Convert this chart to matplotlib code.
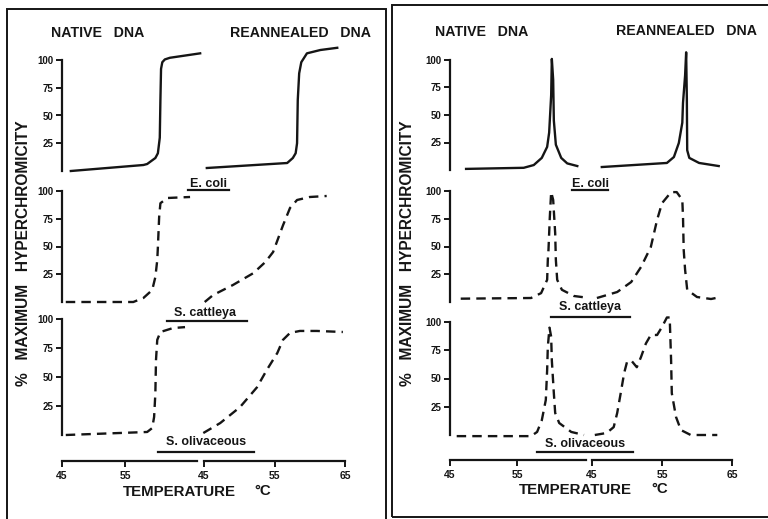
import matplotlib.pyplot as plt
from matplotlib.lines import Line2D
from matplotlib.patches import Rectangle

W, H = 768, 519
INK = '#151515'
plt.rcParams['font.family'] = ['Liberation Sans', 'DejaVu Sans']
plt.rcParams['font.weight'] = 'bold'

species = ['E. coli', 'S. cattleya', 'S. olivaceous']
y_ticks = [25, 50, 75, 100]
native_xticks = [45, 55]
rean_xticks = [45, 55, 65]

# ---- left panel: melting curves (% max hyperchromicity vs temperature) ----
L_ecoli_nat_t = [46.4, 57.9, 58.5, 59.8, 60.2, 60.5, 60.6, 60.7, 60.9, 61.3, 62.1, 66.9]
L_ecoli_nat_v = [0, 5.4, 6.3, 11.7, 16, 30, 64, 92, 98, 100.5, 102, 106]
L_ecoli_rea_t = [45.4, 56.8, 57.6, 58.0, 58.2, 58.3, 58.5, 58.8, 59.6, 61.5, 63.9]
L_ecoli_rea_v = [2.7, 7.2, 11.7, 16, 25, 64, 88, 98, 106, 109, 111]

L_catt_nat_t = [45.6, 56.3, 57.9, 59.3, 59.8, 60.1, 60.2, 60.4, 60.6, 61.7, 65.3]
L_catt_nat_v = [0, 0, 3.6, 10.8, 22.5, 37.8, 49.5, 76.6, 89, 93.7, 94.6]
L_catt_rea_t = [45.1, 46.3, 49.1, 52.0, 53.7, 54.8, 56.2, 57.2, 58.2, 60.0, 62.4]
L_catt_rea_v = [0, 6.3, 15.3, 26, 36, 45, 69, 84.7, 91.9, 94.6, 95.5]

L_oliv_nat_t = [45.6, 58.5, 59.3, 59.6, 59.8, 59.9, 60.1, 60.6, 62.6, 64.5]
L_oliv_nat_v = [0, 2.6, 6, 15.5, 36, 64.7, 82, 88.8, 92.2, 93]
L_oliv_rea_t = [44.9, 47.3, 50.1, 52.5, 53.9, 55.4, 56.2, 57.2, 58.6, 61.0, 64.7]
L_oliv_rea_v = [1.7, 10.3, 24, 41, 56, 70.7, 82, 88, 89.7, 89.7, 88.8]

# ---- right panel: derivative melting profiles ----
R_ecoli_nat_t = [47.4, 56.0, 57.5, 58.7, 59.5, 59.8, 60.1, 60.2, 60.4, 60.5, 60.8, 61.6, 62.5, 64.0]
R_ecoli_nat_v = [1, 2, 4.5, 11, 21, 34, 68, 101, 82, 45, 23, 11, 6, 3.6]
R_ecoli_rea_t = [46.4, 55.7, 56.7, 57.4, 57.9, 58.0, 58.3, 58.45, 58.55, 58.6, 58.9, 60.3, 63.1]
R_ecoli_rea_v = [2.7, 6.4, 11.8, 24.5, 43, 61, 86, 107, 64.5, 18, 11, 6.4, 3.6]

R_catt_nat_t = [46.6, 57.1, 58.6, 59.5, 59.6, 59.7, 59.9, 60.1, 60.4, 60.7, 60.8, 61.0, 61.7, 63.5, 65.3]
R_catt_nat_v = [3, 3.6, 8, 20, 38, 47, 76.6, 99, 92, 62, 38, 20, 11, 5.4, 4]
R_catt_rea_t = [45.7, 48.6, 50.6, 52.0, 53.4, 54.3, 55.0, 56.3, 57.1, 57.9, 58.0, 58.1, 58.3, 58.6, 60.0, 62.0, 63.4]
R_catt_rea_v = [3.6, 9, 18, 31.5, 49.5, 74, 89, 99, 99, 92, 76.6, 47, 29, 11, 4.5, 2.7, 4.5]

R_oliv_nat_t = [46.0, 57.1, 58.0, 58.7, 59.3, 59.5, 59.6, 59.85, 60.1, 60.2, 60.5, 60.7, 61.3, 63.1, 65.0]
R_oliv_nat_v = [-1, -1, 2.7, 13, 31, 57.5, 78, 95, 87, 66, 37, 19.5, 10.6, 2.7, 0]
R_oliv_rea_t = [45.4, 47.1, 48.1, 48.6, 49.1, 49.6, 50.0, 50.6, 51.4, 52.0, 52.7, 53.4, 54.3,
                55.0, 55.7, 56.1, 56.3, 56.4, 57.0, 57.7, 59.1, 62.9]
R_oliv_rea_v = [0, 1.8, 7, 19.5, 37, 55, 64.6, 66, 60, 69, 81, 88.5, 88.5,
                95.6, 104, 104, 66, 37, 16, 4.4, 0, 0]

fig = plt.figure(figsize=(W / 100, H / 100), dpi=100)
fig.patch.set_facecolor('white')


def px_axes(x0, x1, ytop, ybot):
    ax = fig.add_axes([x0 / W, 1 - ybot / H, (x1 - x0) / W, (ybot - ytop) / H])
    ax.patch.set_visible(False)
    for s in ax.spines.values():
        s.set_visible(False)
    return ax


def ftext(x, y, s, **kw):
    kw.setdefault('color', INK)
    kw.setdefault('ha', 'center')
    kw.setdefault('va', 'center')
    fig.text(x / W, 1 - y / H, s, **kw)


def underline(x0, x1, y):
    fig.add_artist(Line2D([x0 / W, x1 / W], [1 - y / H, 1 - y / H], color=INK, lw=1.6))


def draw_panel(yaxis_x, nat_end, nat_max, rea_start, rea_end, rows, curves, xaxis_y,
               labels, titles, ylab_x, temp_pos):
    for (ytop, ybot), (nt, nv, rt, rv), style in zip(rows, curves, ['-', (0, (4, 2.6)), (0, (4, 2.6))]):
        axn = px_axes(yaxis_x, nat_end, ytop, ybot)
        axn.set_xlim(45, nat_max)
        axn.set_ylim(0, 100)
        axn.spines['left'].set_visible(True)
        axn.spines['left'].set_linewidth(1.6)
        axn.spines['left'].set_color(INK)
        axn.set_xticks([])
        axn.set_yticks(y_ticks)
        axn.tick_params(axis='y', direction='out', length=4, width=1.4, pad=2,
                        labelsize=7, colors=INK)
        axn.plot(nt, nv, color=INK, lw=1.7, ls=style, clip_on=False)

        axr = px_axes(rea_start, rea_end, ytop, ybot)
        axr.set_xlim(45, 65)
        axr.set_ylim(0, 100)
        axr.set_xticks([])
        axr.set_yticks([])
        axr.plot(rt, rv, color=INK, lw=1.7, ls=style, clip_on=False)

    # temperature axes
    for x0, x1, xmax, ticks in [(yaxis_x, nat_end, nat_max, native_xticks),
                                (rea_start, rea_end, 65, rean_xticks)]:
        axx = px_axes(x0, x1, xaxis_y - 10, xaxis_y)
        axx.set_xlim(45, xmax)
        axx.set_yticks([])
        axx.spines['bottom'].set_visible(True)
        axx.spines['bottom'].set_linewidth(1.6)
        axx.spines['bottom'].set_color(INK)
        axx.set_xticks(ticks)
        axx.tick_params(axis='x', direction='out', length=4, width=1.4, pad=3,
                        labelsize=7.5, colors=INK)

    for (s, cx, cy, u0, u1, uy) in labels:
        ftext(cx, cy, s, fontsize=9)
        underline(u0, u1, uy)

    for (s, cx, cy) in titles:
        ftext(cx, cy, s, fontsize=10.2)

    ftext(ylab_x, 253, '%   MAXIMUM   HYPERCHROMICITY', fontsize=11.2, rotation=90)
    tx, dx, ty = temp_pos
    ftext(tx, ty, 'TEMPERATURE', fontsize=10.8)
    ftext(dx, ty - 1, '°C', fontsize=10.8)


draw_panel(62, 197, 66.4, 204, 345,
           [(60, 171), (191, 302), (319, 435)],
           [(L_ecoli_nat_t, L_ecoli_nat_v, L_ecoli_rea_t, L_ecoli_rea_v),
            (L_catt_nat_t, L_catt_nat_v, L_catt_rea_t, L_catt_rea_v),
            (L_oliv_nat_t, L_oliv_nat_v, L_oliv_rea_t, L_oliv_rea_v)],
           461,
           [(species[0], 208, 184, 188, 229, 190),
            (species[1], 205, 313, 167, 247, 321),
            (species[2], 206, 442, 158, 254, 452)],
           [('NATIVE   DNA', 98, 33), ('REANNEALED   DNA', 300, 33)],
           24, (179, 263, 492))

draw_panel(450, 586, 65.3, 592, 732,
           [(60, 170), (191, 302), (322, 435)],
           [(R_ecoli_nat_t, R_ecoli_nat_v, R_ecoli_rea_t, R_ecoli_rea_v),
            (R_catt_nat_t, R_catt_nat_v, R_catt_rea_t, R_catt_rea_v),
            (R_oliv_nat_t, R_oliv_nat_v, R_oliv_rea_t, R_oliv_rea_v)],
           460,
           [(species[0], 590, 184, 572, 608, 190),
            (species[1], 590, 307, 551, 630, 317),
            (species[2], 585, 444, 537, 633, 452)],
           [('NATIVE   DNA', 482, 32), ('REANNEALED   DNA', 686, 31)],
           407, (575, 660, 490))

# panel frames
for x0, y0, x1, y1 in [(7, 9, 386, 530), (392, 5, 780, 517)]:
    fig.add_artist(Rectangle((x0 / W, 1 - y1 / H), (x1 - x0) / W, (y1 - y0) / H,
                             transform=fig.transFigure, fill=False, ec=INK, lw=1.4))

fig.savefig('out.png', dpi=100)
